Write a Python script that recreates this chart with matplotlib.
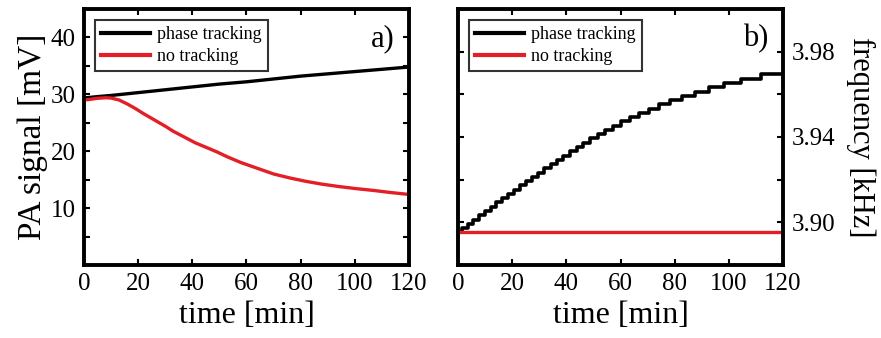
import matplotlib.pyplot as plt
from matplotlib.ticker import MultipleLocator

# panel a) PA signal [mV]
t_phase = [0, 5, 10, 20, 30, 40, 50, 60, 70, 80, 90, 100, 110, 120]
pa_phase = [29.35, 29.6, 29.8, 30.3, 30.8, 31.3, 31.8, 32.2, 32.7, 33.2, 33.6, 34.0, 34.4, 34.8]
t_notrack = [0, 2, 5, 8, 10, 13, 16, 19, 22, 26, 30, 33, 37, 41, 45, 49, 53, 58, 64, 70, 76,
             82, 88, 94, 100, 107, 113, 120]
pa_notrack = [29.0, 29.1, 29.3, 29.4, 29.35, 29.0, 28.3, 27.5, 26.6, 25.5, 24.4, 23.5, 22.5,
              21.5, 20.7, 19.9, 19.0, 18.0, 17.0, 16.0, 15.3, 14.7, 14.2, 13.8, 13.45, 13.1,
              12.75, 12.4]

# panel b) frequency [kHz], staircase of the tracking loop
t_steps = [0, 1.5, 3.5, 5.7, 7.8, 10.0, 12.1, 14.2, 16.3, 18.5, 20.7, 22.9, 25.1, 27.3, 29.6,
           31.9, 34.2, 36.5, 38.9, 41.3, 43.8, 46.3, 48.9, 51.6, 54.4, 57.3, 60.3, 63.5, 66.9,
           70.5, 74.3, 78.4, 82.8, 87.5, 92.6, 98.2, 104.5, 112.0, 120]
f_steps = [3.8953, 3.8973, 3.8993, 3.9013, 3.9033, 3.9053, 3.9073, 3.9093, 3.9113, 3.9133,
           3.9153, 3.9173, 3.9193, 3.9213, 3.9233, 3.9253, 3.9273, 3.9293, 3.9313, 3.9333,
           3.9353, 3.9373, 3.9393, 3.9413, 3.9433, 3.9453, 3.9473, 3.9493, 3.9513, 3.9533,
           3.9553, 3.9573, 3.9593, 3.9613, 3.9633, 3.9653, 3.9673, 3.9693, 3.9693]
t_fixed = [0, 120]
f_fixed = [3.8953, 3.8953]

red = '#e41e26'
plt.rcParams['font.family'] = 'Liberation Serif'

fig = plt.figure(figsize=(8.81, 3.38), dpi=100)
ax1 = fig.add_axes([0.0953, 0.216, 0.3689, 0.7574])
ax2 = fig.add_axes([0.5199, 0.216, 0.3689, 0.7574])

ax1.plot(t_phase, pa_phase, color='black', lw=2.4, label='phase tracking')
ax1.plot(t_notrack, pa_notrack, color=red, lw=2.4, label='no tracking')
ax1.set_xlim(0, 120)
ax1.set_ylim(0, 45)
ax1.set_yticks([10, 20, 30, 40])
ax1.yaxis.set_minor_locator(MultipleLocator(5))
ax1.set_ylabel('PA signal [mV]', fontsize=24, labelpad=2)
ax1.text(0.955, 0.885, 'a)', transform=ax1.transAxes, fontsize=22, ha='right', va='center')

ax2.step(t_steps, f_steps, where='post', color='black', lw=2.6, label='phase tracking')
ax2.plot(t_fixed, f_fixed, color=red, lw=2.4, label='no tracking')
ax2.set_xlim(0, 120)
ax2.set_ylim(3.88, 4.0)
ax2.set_yticks([3.90, 3.94, 3.98])
ax2.set_yticklabels(['3.90', '3.94', '3.98'])
ax2.yaxis.set_minor_locator(MultipleLocator(0.02))
ax2.yaxis.tick_right()
ax2.yaxis.set_label_position('right')
ax2.set_ylabel('frequency [kHz]', fontsize=22, rotation=270, va='bottom', labelpad=8)
ax2.text(0.955, 0.885, 'b)', transform=ax2.transAxes, fontsize=22, ha='right', va='center')

for ax in (ax1, ax2):
    ax.set_xticks([0, 20, 40, 60, 80, 100, 120])
    ax.set_xlabel('time [min]', fontsize=23, labelpad=4)
    ax.tick_params(which='both', direction='in', top=True, bottom=True, left=True, right=True,
                   labelsize=18, width=1.5)
    ax.tick_params(which='major', length=4, pad=6)
    ax.tick_params(which='minor', length=4)
    for s in ax.spines.values():
        s.set_linewidth(2.8)
    leg = ax.legend(loc='upper left', fontsize=13, frameon=True, fancybox=False,
                    edgecolor='black', handlelength=2.7, borderpad=0.35, labelspacing=0.25,
                    handletextpad=0.4, bbox_to_anchor=(0.034, 0.957), borderaxespad=0)
    leg.get_frame().set_linewidth(1.5)
    for ln in leg.get_lines():
        ln.set_linewidth(3)

fig.savefig('out.png', dpi=100)
